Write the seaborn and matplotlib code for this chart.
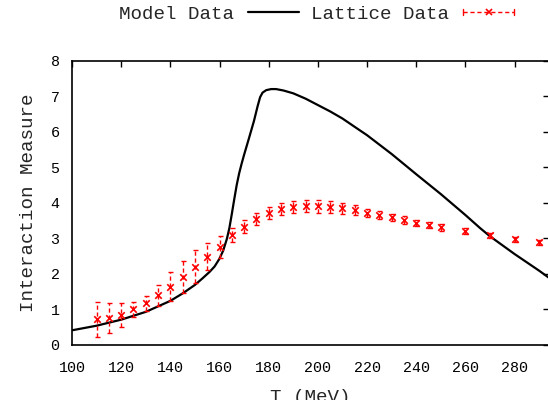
import matplotlib
matplotlib.use("Agg")
import matplotlib.pyplot as plt
import seaborn as sns
import pandas as pd
from matplotlib.lines import Line2D
from matplotlib.legend_handler import HandlerBase

# Model curve
model_T = [100, 110, 120, 130, 140, 145, 150, 153, 156, 158, 160, 161.5, 163, 164,
           165, 166, 167, 168, 169, 170, 172, 174, 175.5, 176.5, 177.5, 179, 181,
           183, 186, 190, 195, 200, 205, 210, 217, 220, 230, 240, 250, 260, 266,
           270, 280, 290, 294]
model_val = [0.40, 0.53, 0.70, 0.92, 1.23, 1.44, 1.68, 1.86, 2.05, 2.20, 2.42, 2.65,
             2.98, 3.28, 3.68, 4.10, 4.50, 4.83, 5.10, 5.35, 5.82, 6.30, 6.72, 6.97,
             7.10, 7.17, 7.20, 7.20, 7.16, 7.08, 6.93, 6.75, 6.57, 6.37, 6.04, 5.90,
             5.37, 4.80, 4.24, 3.65, 3.28, 3.05, 2.55, 2.08, 1.88]

# Lattice points with symmetric errors
lat_T = [110, 115, 120, 125, 130, 135, 140, 145, 150, 155, 160, 165, 170, 175, 180,
         185, 190, 195, 200, 205, 210, 215, 220, 225, 230, 235, 240, 245, 250, 260,
         270, 280, 290]
lat_val = [0.71, 0.75, 0.83, 0.99, 1.16, 1.39, 1.63, 1.91, 2.19, 2.47, 2.75, 3.08,
           3.32, 3.53, 3.70, 3.82, 3.88, 3.90, 3.90, 3.88, 3.84, 3.79, 3.71, 3.65,
           3.58, 3.51, 3.43, 3.37, 3.30, 3.20, 3.08, 2.97, 2.88]
lat_err = [0.50, 0.43, 0.33, 0.22, 0.22, 0.30, 0.40, 0.45, 0.47, 0.38, 0.30, 0.20,
           0.19, 0.17, 0.17, 0.16, 0.16, 0.17, 0.18, 0.17, 0.16, 0.14, 0.12, 0.11,
           0.10, 0.10, 0.09, 0.09, 0.09, 0.08, 0.07, 0.07, 0.07]

x_ticks = [100, 120, 140, 160, 180, 200, 220, 240, 260, 280]
y_ticks = [0, 1, 2, 3, 4, 5, 6, 7, 8]

MONO = "Liberation Mono"
sns.set_style("white")
plt.rcParams["font.family"] = [MONO, "DejaVu Sans Mono"]

W, H = 548, 400
fig = plt.figure(figsize=(W / 100, H / 100), dpi=100)
ax = fig.add_axes([72 / W, (H - 344.5) / H, (549 - 72) / W, (344.5 - 60.7) / H])

model_df = pd.DataFrame({"T": model_T, "val": model_val})
lat_df = pd.DataFrame({"T": lat_T, "val": lat_val, "err": lat_err})

sns.lineplot(data=model_df, x="T", y="val", color="black", lw=1.6, ax=ax,
             sort=False, estimator=None)

eb = ax.errorbar(lat_df["T"], lat_df["val"], yerr=lat_df["err"], fmt="none",
                 ecolor="red", elinewidth=1.0, capsize=1.8, capthick=1.0)
eb[2][0].set_linestyle((0, (3, 2)))
sns.scatterplot(data=lat_df, x="T", y="val", marker="x", color="red", s=22,
                linewidth=1.2, ax=ax, zorder=3)

ax.set_xlim(100, 294)
ax.set_ylim(0, 8)
ax.set_xticks(x_ticks)
ax.set_yticks(y_ticks)
ax.set_xticklabels([str(v) for v in x_ticks])
ax.set_yticklabels([str(v) for v in y_ticks])
ax.tick_params(direction="in", length=4.5, width=1.0, top=True, right=True,
               labelsize=10.8, colors="black")
ax.tick_params(axis="x", pad=12)
ax.tick_params(axis="y", pad=9)
for s in ax.spines.values():
    s.set_visible(True)
    s.set_linewidth(1.2)
    s.set_color("black")

ax.set_xlabel("T (MeV)", fontsize=13.8, labelpad=10)
ax.set_ylabel("Interaction Measure", fontsize=13.8, labelpad=10)


class HandlerHorizErr(HandlerBase):
    def create_artists(self, legend, orig_handle, xdescent, ydescent, width,
                       height, fontsize, trans):
        y = height / 2 - ydescent
        x0, x1 = -xdescent, width - xdescent
        bar = Line2D([x0, x1], [y, y], color="red", lw=1.0, ls=(0, (3, 2)))
        c0 = Line2D([x0, x0], [y - 2, y + 2], color="red", lw=1.0)
        c1 = Line2D([x1, x1], [y - 2, y + 2], color="red", lw=1.0)
        mk = Line2D([(x0 + x1) / 2], [y], color="red", marker="x", ms=5, mew=1.2, ls="none")
        arts = [bar, c0, c1, mk]
        for a in arts:
            a.set_transform(trans)
        return arts


model_handle = Line2D([], [], color="black", lw=1.6)
lat_handle = Line2D([], [], color="red")
fig.legend([model_handle, lat_handle], ["Model Data", "Lattice Data"],
           handler_map={lat_handle: HandlerHorizErr()},
           loc="center", bbox_to_anchor=(316.5 / W, 1 - 14 / H), ncol=2,
           frameon=False, markerfirst=False, fontsize=13.8, handlelength=2.66,
           handletextpad=0.73, columnspacing=0.63, borderpad=0, borderaxespad=0)

fig.savefig("out.png", dpi=100)
